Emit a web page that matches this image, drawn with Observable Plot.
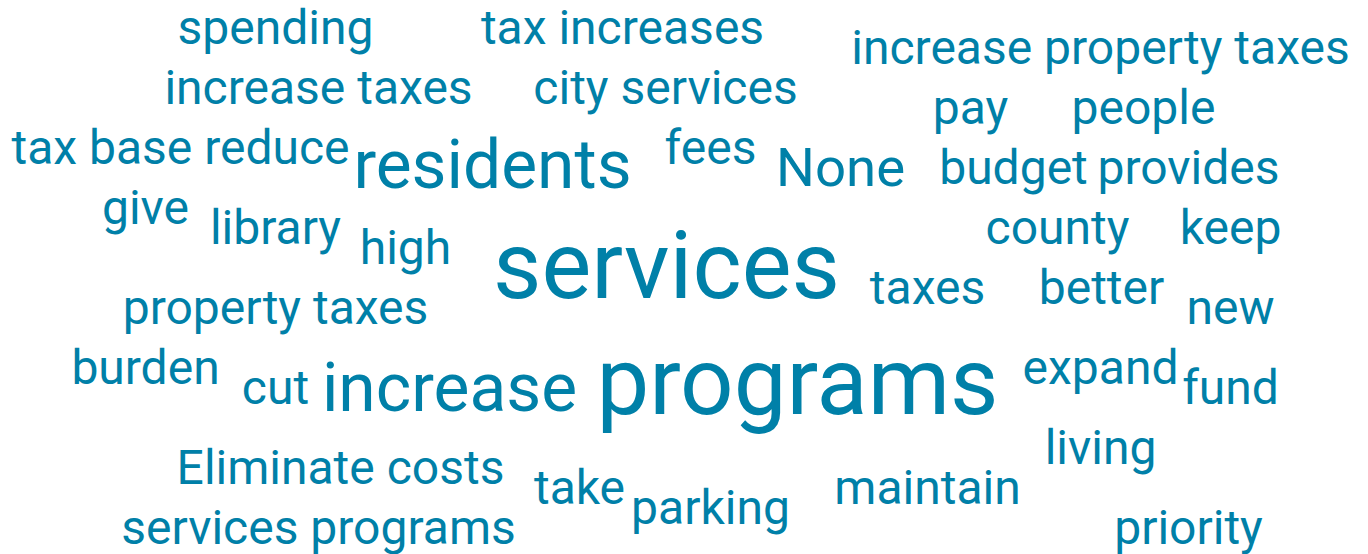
<!DOCTYPE html>
<html><head><meta charset="utf-8">
<script src="https://cdn.jsdelivr.net/npm/d3@7"></script>
<script src="https://cdn.jsdelivr.net/npm/@observablehq/plot@0.6"></script>
<style>html,body{margin:0;padding:0;background:#fff}</style>
</head><body><div id="chart"></div>
<script>
// Word cloud terms
const words = [
  "spending","tax increases","increase property taxes","increase taxes","city services",
  "pay","people","tax base reduce","fees","residents","None","budget","provides",
  "give","library","high","services","county","keep","taxes","better",
  "property taxes","new","burden","cut","increase","programs","expand","fund",
  "living","Eliminate costs","take","parking","maintain","services programs","priority"
];
// Relative frequency of each term (drives font size)
const counts = [
  2,2,2,2,2,
  2,2,2,2,5,3,2,2,
  2,2,2,9,2,2,2,2,
  2,2,2,2,5,9,2,2,
  2,2,2,2,2,2,2
];
// Cloud layout: centre x and baseline y of each term
const layoutX = [
  275,622,1100,318,665,
  970,1143,180,710,492,840,1013,1188,
  145,275,405,666,1057,1230,927,1101,
  275,1230,145,275,449,797,1100,1230,
  1100,340,579,710,927,318,1188
];
const layoutY = [
  43,43,63,103,103,
  123,123,163,163,187,185,183,183,
  223,243,263,297,243,243,303,303,
  323,323,383,403,410,413,383,403,
  463,483,503,523,503,543,543
];

const data = words.map((w, i) => ({word: w, count: counts[i], x: layoutX[i], y: layoutY[i]}));
const size = d3.scaleLinear().domain([2, 9]).range([48, 94]);

const chart = Plot.plot({
  width: 1368,
  height: 554,
  margin: 0,
  x: {domain: [0, 1368], range: [0, 1368], axis: null},
  y: {domain: [0, 554], range: [0, 554], axis: null},
  style: {background: "#fff"},
  marks: [
    Plot.text(data, {
      x: "x", y: "y", text: "word",
      fontSize: d => size(d.count),
      lineAnchor: "bottom", textAnchor: "middle",
      fill: "#0080a8", fontFamily: "Roboto", fontWeight: 400
    })
  ]
});
document.getElementById("chart").append(chart);
</script>
</body></html>
